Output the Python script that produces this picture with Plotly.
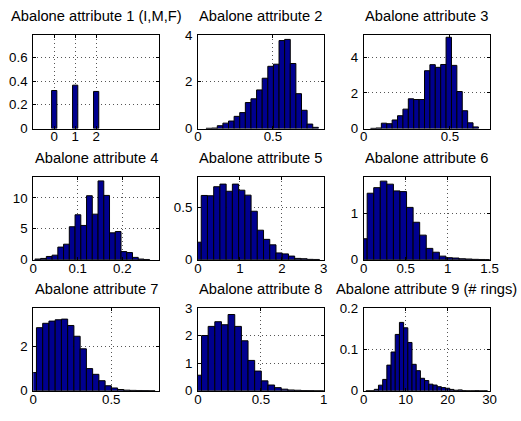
import plotly.graph_objects as go

# ---------------- data ----------------
titles = [
    "Abalone attribute 1 (I,M,F)", "Abalone attribute 2", "Abalone attribute 3",
    "Abalone attribute 4", "Abalone attribute 5", "Abalone attribute 6",
    "Abalone attribute 7", "Abalone attribute 8", "Abalone attribute 9 (# rings)",
]

# attribute 1: sex categories coded 0=I, 1=M, 2=F
sex_codes = [0, 1, 2]
sex_density = [0.321, 0.366, 0.313]

# attributes 2-9: histogram bins (first bin centre, bin width) and densities
bin_first_center = [None, 0.07225, 0.055, 0.01005, 0.002, 0.001, 0.0005, 0.0015, 1]
bin_width = [0.25, 0.0375, 0.0313, 0.0129, 0.1486, 0.0783, 0.04, 0.0528, 1]

dens2 = [0.01, 0.02, 0.12, 0.23, 0.32, 0.52, 0.68, 1.11, 1.27, 1.65, 2.15, 2.66,
         2.75, 3.76, 3.81, 2.78, 1.49, 0.78, 0.19, 0.05]
dens3 = [0.01, 0.03, 0.30, 0.27, 0.48, 0.72, 1.09, 1.67, 1.63, 1.63, 3.25, 3.59,
         3.44, 3.60, 5.13, 3.55, 2.08, 1.00, 0.32, 0.09]
dens4 = [0.10, 0.20, 0.52, 0.73, 2.04, 2.51, 5.34, 7.28, 5.55, 10.37, 7.38, 12.77,
         10.42, 4.35, 4.56, 1.31, 1.15, 0.37, 0.10, 0.03]
dens5 = [0.166, 0.61, 0.607, 0.693, 0.718, 0.65, 0.718, 0.66, 0.613, 0.46, 0.28,
         0.193, 0.141, 0.064, 0.055, 0.034, 0.012, 0.009, 0.003, 0.002]
dens6 = [0.45, 1.43, 1.55, 1.69, 1.625, 1.48, 1.465, 1.125, 0.805, 0.528, 0.243,
         0.16, 0.076, 0.042, 0.035, 0.02, 0.014, 0.007, 0.004, 0.002]
dens7 = [0.83, 2.87, 3.07, 3.17, 3.23, 3.26, 2.97, 2.48, 1.91, 1.01, 0.75, 0.46,
         0.23, 0.13, 0.06, 0.03, 0.02, 0.015, 0.01, 0.005]
dens8 = [0.565, 2.0, 2.33, 2.5, 2.39, 2.76, 2.33, 1.81, 1.1, 0.715, 0.36, 0.21,
         0.115, 0.06, 0.03, 0.02, 0.01, 0.007, 0.003, 0.001]
dens9 = [0.0002, 0.0002, 0.0036, 0.0136, 0.0275, 0.062, 0.0936, 0.136, 0.165,
         0.152, 0.1166, 0.0639, 0.0486, 0.0302, 0.0247, 0.016, 0.0139, 0.010,
         0.0077, 0.0062, 0.0034, 0.0014, 0.0022, 0.0005, 0.0002, 0.0002, 0.0005,
         0.0, 0.0002]
densities = [sex_density, dens2, dens3, dens4, dens5, dens6, dens7, dens8, dens9]

x_ranges = [[-1, 5], [0, 0.84], [0, 0.73], [0, 0.2825], [0, 3], [0, 1.5],
            [0, 0.806], [0, 1], [0, 30]]
y_ranges = [[0, 0.79], [0, 4], [0, 5.26], [0, 13.45], [0, 0.788], [0, 1.785],
            [0, 3.77], [0, 3], [0, 0.2]]
x_ticks = [[0, 1, 2], [0, 0.5], [0, 0.5], [0, 0.1, 0.2], [0, 1, 2, 3],
           [0, 0.5, 1, 1.5], [0, 0.5], [0, 0.5, 1], [0, 10, 20, 30]]
y_ticks = [[0, 0.2, 0.4, 0.6], [0, 2, 4], [0, 2, 4], [0, 5, 10], [0, 0.5],
           [0, 1], [0, 2], [0, 1, 2, 3], [0, 0.1, 0.2]]

# ---------------- layout (pixels) ----------------
W, H = 521, 421
col_px = [(30, 159), (199, 328), (369, 498)]
row_px = [(29, 126), (176, 262), (312, 398)]

FONT = "Liberation Sans, Arial, Helvetica, sans-serif"
BAR_FILL = "#00008F"

fig = go.Figure()
annotations = []
for i in range(9):
    r, c = divmod(i, 3)
    ax = "" if i == 0 else str(i + 1)
    if i == 0:
        xs = sex_codes
    else:
        xs = [bin_first_center[i] + k * bin_width[i] for k in range(len(densities[i]))]
    fig.add_trace(go.Bar(
        x=xs, y=densities[i], width=bin_width[i],
        marker=dict(color=BAR_FILL, line=dict(color="black", width=1)),
        xaxis="x" + ax, yaxis="y" + ax, showlegend=False, hoverinfo="skip",
    ))
    x0, x1 = col_px[c]
    y0, y1 = row_px[r]
    common = dict(
        showline=True, linecolor="black", linewidth=1, mirror="ticks",
        ticks="inside", ticklen=3, tickcolor="black", tickwidth=1,
        showgrid=True, gridcolor="#555555", griddash="1px,3px", gridwidth=1,
        zeroline=False, tickfont=dict(family=FONT, size=13.3, color="black"),
        fixedrange=True,
    )
    fig.layout["xaxis" + ax] = dict(
        common, domain=[x0 / W, x1 / W], range=x_ranges[i],
        tickmode="array", tickvals=x_ticks[i],
        ticktext=[f"{v:g}" for v in x_ticks[i]],
        anchor="y" + ax, ticklabelstandoff=-4,
    )
    fig.layout["yaxis" + ax] = dict(
        common, domain=[1 - y1 / H, 1 - y0 / H], range=y_ranges[i],
        tickmode="array", tickvals=y_ticks[i],
        ticktext=[f"{v:g}" for v in y_ticks[i]],
        anchor="x" + ax, ticklabelstandoff=2,
    )
    annotations.append(dict(
        text=titles[i], x=(x0 + x1) / 2 / W, y=1 - y0 / H,
        xref="paper", yref="paper", xanchor="center", yanchor="bottom",
        yshift=9, showarrow=False,
        font=dict(family=FONT, size=14.7, color="black"),
    ))

fig.update_layout(
    width=W, height=H, margin=dict(l=0, r=0, t=0, b=0),
    paper_bgcolor="white", plot_bgcolor="white",
    annotations=annotations, barmode="overlay",
)

fig.write_html("out.html", config={"displayModeBar": False})
